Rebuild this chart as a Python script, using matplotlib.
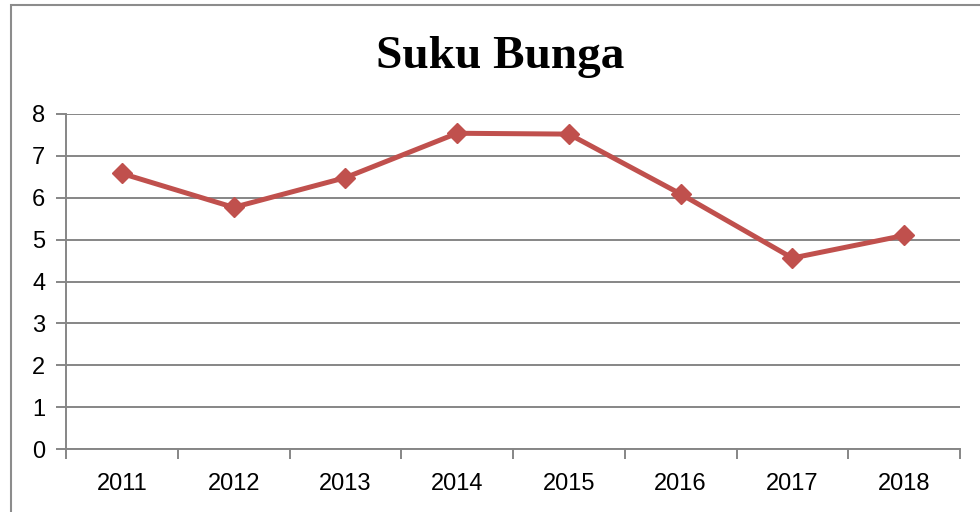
import matplotlib.pyplot as plt
from matplotlib.patches import Rectangle

years = ["2011", "2012", "2013", "2014", "2015", "2016", "2017", "2018"]
suku_bunga = [6.58, 5.77, 6.48, 7.54, 7.52, 6.09, 4.56, 5.10]
y_ticks = [0, 1, 2, 3, 4, 5, 6, 7, 8]

fig = plt.figure(figsize=(9.8, 5.12), dpi=100)
ax = fig.add_axes([66 / 980, 63 / 512, 894 / 980, 335 / 512])

# outer chart border (runs off the right and bottom edges)
fig.patches.append(Rectangle((11 / 980, -0.1), 1.1, (507 / 512) + 0.1,
                             transform=fig.transFigure, fill=False,
                             edgecolor="#8c8c8c", linewidth=1.5))

x = list(range(len(years)))
ax.plot(x, suku_bunga, color="#C0504D", linewidth=3.6, marker="D",
        markersize=10, zorder=3)

ax.set_xlim(-0.5, len(years) - 0.5)
ax.set_ylim(0, 8)
ax.set_yticks(y_ticks)
ax.set_xticks(x)
ax.set_xticklabels(years)
ax.set_xticks([i - 0.5 for i in range(len(years) + 1)], minor=True)

ax.yaxis.grid(True, color="#868686", linewidth=1.4)
ax.set_axisbelow(True)
for side in ["top", "right"]:
    ax.spines[side].set_visible(False)
for side in ["left", "bottom"]:
    ax.spines[side].set_color("#868686")
    ax.spines[side].set_linewidth(1.4)

ax.tick_params(axis="x", which="major", length=0, pad=17)
ax.tick_params(axis="x", which="minor", length=7, width=1.4,
               color="#868686", direction="out")
ax.tick_params(axis="y", length=7, width=1.4, color="#868686", pad=8)
for lbl in ax.get_xticklabels() + ax.get_yticklabels():
    lbl.set_fontfamily("Liberation Sans")
    lbl.set_fontsize(17)

fig.text(500 / 980, 1 - 57 / 512, "Suku Bunga", family="Liberation Serif",
         fontweight="bold", fontsize=34, ha="center", va="center")

fig.savefig("out.png", dpi=100)
